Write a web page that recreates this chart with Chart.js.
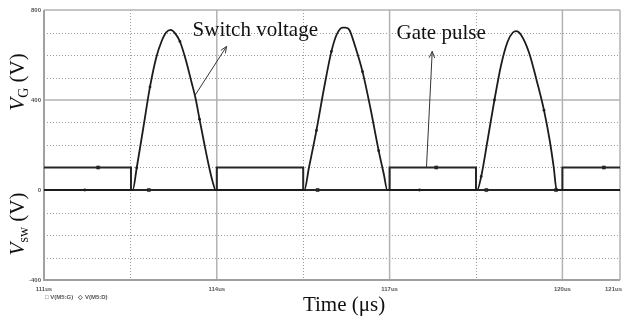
<!DOCTYPE html>
<html><head><meta charset="utf-8">
<script src="https://cdn.jsdelivr.net/npm/chart.js@4"></script>
<style>html,body{margin:0;padding:0;background:#fff;overflow:hidden}</style>
</head><body>
<canvas id="c" width="627" height="320"></canvas>
<script>
// ---- data (time in µs, voltage in V) ----
const gateTime = [111, 112.51, 112.51, 114.0, 114.0, 115.5, 115.5, 117.0, 117.0, 118.5, 118.5, 120.0, 120.0, 121];
const gateVolt = [100, 100, 0, 0, 100, 100, 0, 0, 100, 100, 0, 0, 100, 100];

const swTime = [111, 112.54, 112.61, 112.72, 112.84, 112.95, 113.04, 113.12, 113.2, 113.28, 113.36, 113.46, 113.56, 113.63, 113.70, 113.78, 113.86, 113.93, 113.98,
  115.52, 115.6, 115.73, 115.86, 115.99, 116.08, 116.18, 116.24, 116.30, 116.40, 116.53, 116.67, 116.81, 116.9, 116.96,
  118.52, 118.59, 118.7, 118.82, 118.94, 119.05, 119.14, 119.2, 119.28, 119.42, 119.55, 119.68, 119.78, 119.85, 119.9, 121];
const swVolt = [0, 0, 99, 270, 458, 590, 660, 700, 712, 695, 660, 580, 480, 409, 315, 210, 110, 35, 0,
  0, 100, 265, 450, 616, 690, 722, 722, 712, 640, 526, 360, 175, 70, 0,
  0, 60, 220, 400, 560, 660, 700, 706, 690, 611, 490, 355, 220, 100, 0, 0];

const gateMarkTime = [111.94, 112.82, 115.75, 117.81, 118.68, 119.89, 120.72];
const gateMarkVolt = [100, 0, 0, 100, 0, 0, 100];
const swMarkTime = [111.71, 112.61, 112.84, 113.36, 113.70, 115.73, 115.99, 116.53, 116.81, 117.52, 118.59, 118.82, 119.68];
const swMarkVolt = [0, 99, 458, 660, 315, 265, 616, 526, 175, 0, 60, 400, 355];

const xMajorTicks = [111, 114, 117, 120, 121];
const xMinorTicks = [112.5, 115.5, 118.5];
const xTickLabels = ['111us', '114us', '117us', '120us', '121us'];
const yMajorTicks = [-400, 0, 400, 800];
const yMinorTicks = [-300, -200, -100, 100, 200, 300, 500, 600, 700];
const yTickLabels = ['-400', '0', '400', '800'];

const legendText = '\u25A1 V(M5:G)   \u25C7 V(M5:D)';
const xTitle = 'Time (\u03BCs)';
const notes = [
  {text: 'Switch voltage', t: 113.58, v: 683, from: [113.62, 420], to: [114.17, 638]},
  {text: 'Gate pulse', t: 117.12, v: 670, from: [117.64, 99], to: [117.74, 616]}
];

const pts = (ts, vs) => ts.map((t, i) => ({x: t, y: vs[i]}));

const gridPlugin = {
  id: 'grid',
  beforeDatasetsDraw(chart) {
    const {ctx, chartArea: a, scales: {x, y}} = chart;
    ctx.save();
    // dotted minor grid
    ctx.strokeStyle = '#9a9a9a'; ctx.lineWidth = 1; ctx.setLineDash([1, 2]);
    yMinorTicks.forEach(v => { const p = Math.round(y.getPixelForValue(v)) + 0.5; ctx.beginPath(); ctx.moveTo(a.left, p); ctx.lineTo(a.right, p); ctx.stroke(); });
    xMinorTicks.forEach(t => { const p = Math.round(x.getPixelForValue(t)) + 0.5; ctx.beginPath(); ctx.moveTo(p, a.top); ctx.lineTo(p, a.bottom); ctx.stroke(); });
    // solid major grid
    ctx.setLineDash([]); ctx.strokeStyle = '#b2b2b2'; ctx.lineWidth = 1.5;
    yMajorTicks.forEach(v => { const p = y.getPixelForValue(v); ctx.beginPath(); ctx.moveTo(a.left, p); ctx.lineTo(a.right, p); ctx.stroke(); });
    xMajorTicks.forEach(t => { const p = x.getPixelForValue(t); ctx.beginPath(); ctx.moveTo(p, a.top); ctx.lineTo(p, a.bottom); ctx.stroke(); });
    ctx.strokeStyle = '#a0a0a0'; ctx.lineWidth = 2;
    ctx.beginPath(); ctx.moveTo(a.left, a.top); ctx.lineTo(a.left, a.bottom); ctx.lineTo(a.right, a.bottom); ctx.stroke();
    ctx.restore();
  },
  afterDraw(chart) {
    const {ctx, chartArea: a, scales: {x, y}} = chart;
    ctx.save();
    // tick labels
    ctx.fillStyle = '#555'; ctx.font = 'bold 6px "Liberation Sans"';
    ctx.textAlign = 'right'; ctx.textBaseline = 'middle';
    yMajorTicks.forEach((v, i) => ctx.fillText(yTickLabels[i], a.left - 3, y.getPixelForValue(v)));
    ctx.textBaseline = 'top';
    xMajorTicks.forEach((t, i) => {
      const last = i === xMajorTicks.length - 1;
      ctx.textAlign = last ? 'right' : 'center';
      ctx.fillText(xTickLabels[i], x.getPixelForValue(t) + (last ? 2 : 0), a.bottom + 6);
    });
    ctx.textAlign = 'left';
    ctx.fillText(legendText, a.left + 1, a.bottom + 14);
    // axis title
    ctx.fillStyle = '#111'; ctx.font = '21px "Liberation Serif"';
    ctx.textAlign = 'center'; ctx.textBaseline = 'alphabetic';
    ctx.fillText(xTitle, 344, 311);
    // rotated y titles
    const yTitle = (cx, cy, sub) => {
      ctx.save(); ctx.translate(cx, cy); ctx.rotate(-Math.PI / 2);
      ctx.textAlign = 'left';
      const fMain = 'italic 21px "Liberation Serif"', fSub = '14px "Liberation Serif"', fRest = '21px "Liberation Serif"';
      ctx.font = fMain; const w1 = ctx.measureText('V').width;
      ctx.font = fSub; const w2 = ctx.measureText(sub).width;
      ctx.font = fRest; const w3 = ctx.measureText(' (V)').width;
      let px = -(w1 + w2 + w3) / 2;
      ctx.font = fMain; ctx.fillText('V', px, 0); px += w1;
      ctx.font = fSub; ctx.fillText(sub, px, 4); px += w2;
      ctx.font = fRest; ctx.fillText(' (V)', px, 0);
      ctx.restore();
    };
    yTitle(24, 82, 'G');
    yTitle(24, 224, 'sw');
    // annotations
    notes.forEach(n => {
      ctx.fillStyle = '#111'; ctx.font = '21px "Liberation Serif"'; ctx.textAlign = 'left';
      ctx.fillText(n.text, x.getPixelForValue(n.t), y.getPixelForValue(n.v));
      const x1 = x.getPixelForValue(n.from[0]), y1 = y.getPixelForValue(n.from[1]);
      const x2 = x.getPixelForValue(n.to[0]), y2 = y.getPixelForValue(n.to[1]);
      ctx.strokeStyle = '#333'; ctx.lineWidth = 1;
      ctx.beginPath(); ctx.moveTo(x1, y1); ctx.lineTo(x2, y2); ctx.stroke();
      const ang = Math.atan2(y2 - y1, x2 - x1), L = 7, s = 0.4;
      ctx.beginPath();
      ctx.moveTo(x2 - L * Math.cos(ang - s), y2 - L * Math.sin(ang - s));
      ctx.lineTo(x2, y2);
      ctx.lineTo(x2 - L * Math.cos(ang + s), y2 - L * Math.sin(ang + s));
      ctx.stroke();
    });
    ctx.restore();
  }
};

new Chart(document.getElementById('c'), {
  type: 'line',
  data: {
    datasets: [
      {label: 'V(M5:D)', data: pts(swTime, swVolt), borderColor: '#1c1c1c', borderWidth: 1.8, pointRadius: 0, cubicInterpolationMode: 'monotone', fill: false},
      {label: 'V(M5:G)', data: pts(gateTime, gateVolt), borderColor: '#262626', borderWidth: 2, pointRadius: 0, tension: 0, fill: false},
      {label: 'G marks', data: pts(gateMarkTime, gateMarkVolt), showLine: false, pointStyle: 'rect', pointRadius: 2.2, backgroundColor: '#222', borderColor: '#222', borderWidth: 0.5},
      {label: 'D marks', data: pts(swMarkTime, swMarkVolt), showLine: false, pointStyle: 'circle', pointRadius: 1.4, backgroundColor: '#222', borderColor: '#222', borderWidth: 0}
    ]
  },
  options: {
    responsive: false, animation: false, devicePixelRatio: 1,
    layout: {padding: {left: 44, right: 7, top: 10, bottom: 40}},
    scales: {
      x: {type: 'linear', min: 111, max: 121, display: false},
      y: {type: 'linear', min: -400, max: 800, display: false}
    },
    plugins: {legend: {display: false}, tooltip: {enabled: false}},
    elements: {line: {borderCapStyle: 'butt', borderJoinStyle: 'miter'}}
  },
  plugins: [gridPlugin]
});
</script>
</body></html>
